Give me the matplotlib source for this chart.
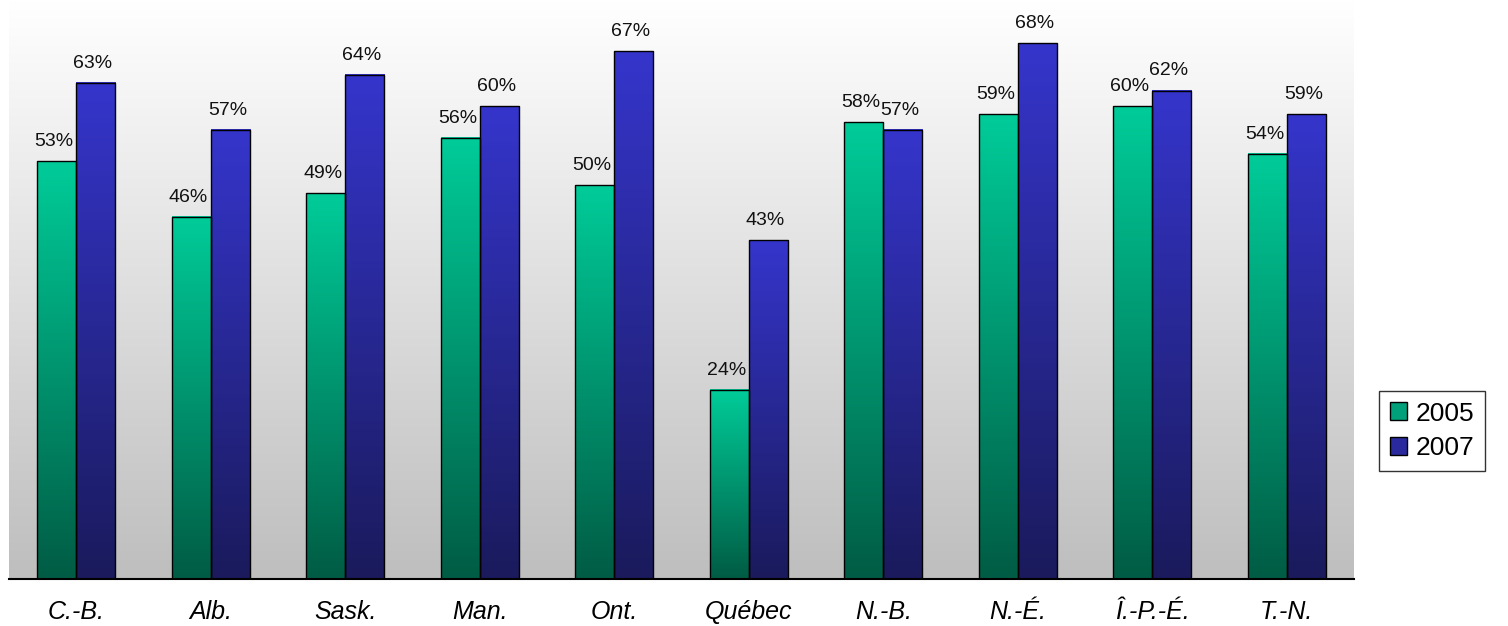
import numpy as np
import matplotlib
matplotlib.use("Agg")
import matplotlib.pyplot as plt
from matplotlib.colors import LinearSegmentedColormap
from matplotlib.patches import Patch

plt.rcParams['font.family'] = ['Liberation Sans', 'DejaVu Sans']

categories = ["C.-B.", "Alb.", "Sask.", "Man.", "Ont.", "Québec", "N.-B.", "N.-É.", "Î.-P.-É.", "T.-N."]
series_names = ["2005", "2007"]
values_2005 = [53, 46, 49, 56, 50, 24, 58, 59, 60, 54]
values_2007 = [63, 57, 64, 60, 67, 43, 57, 68, 62, 59]

W, H = 1508, 626
fig = plt.figure(figsize=(W / 100, H / 100), dpi=100)
fig.patch.set_facecolor("white")
ax = fig.add_axes([9 / W, (H - 579) / H, (1354 - 9) / W, 579 / H])

x = np.arange(len(categories))
bw = 0.29

cmap_green = LinearSegmentedColormap.from_list("g", ["#005C44", "#00CC99"])
cmap_blue = LinearSegmentedColormap.from_list("b", ["#1A1A5C", "#3535CC"])
cmap_bg = LinearSegmentedColormap.from_list("bg", ["#BEBEBE", "#FFFFFF"])

grad = np.linspace(0, 1, 256).reshape(-1, 1)

ax.imshow(grad, extent=[0, 1, 0, 1], transform=ax.transAxes, origin="lower",
          aspect="auto", cmap=cmap_bg, zorder=0)

bars1 = ax.bar(x - bw / 2, values_2005, bw, facecolor="none", edgecolor="black", lw=1.0, zorder=3)
bars2 = ax.bar(x + bw / 2, values_2007, bw, facecolor="none", edgecolor="black", lw=1.0, zorder=3)

for bars, cm in ((bars1, cmap_green), (bars2, cmap_blue)):
    for b in bars:
        x0, w, h = b.get_x(), b.get_width(), b.get_height()
        ax.imshow(grad, extent=[x0, x0 + w, 0, h], origin="lower", aspect="auto",
                  cmap=cm, zorder=2)

for bars, vals in ((bars1, values_2005), (bars2, values_2007)):
    for b, v in zip(bars, vals):
        ax.annotate(f"{v}%", (b.get_x() + b.get_width() / 2, v), xytext=(-2, 8),
                    textcoords="offset points", ha="center", va="bottom",
                    fontsize=14, color="#111111", zorder=4)

ax.set_xlim(-0.5, len(categories) - 0.5)
ax.set_ylim(0, 73.5)
ax.set_xticks(x)
ax.set_xticklabels(categories, fontsize=18, fontstyle="italic")
ax.tick_params(axis="x", length=0, pad=15)
ax.set_yticks([])
for s in ("top", "right", "left"):
    ax.spines[s].set_visible(False)
ax.spines["bottom"].set_linewidth(1.5)
ax.spines["bottom"].set_zorder(5)

handles = [Patch(facecolor="#00A07A", edgecolor="black", label=series_names[0]),
           Patch(facecolor="#2A2A9E", edgecolor="black", label=series_names[1])]
leg = fig.legend(handles=handles, loc="upper left", bbox_to_anchor=(1379 / W, 1 - 391 / H),
                 frameon=True, fancybox=False, fontsize=19, handlelength=0.65, handleheight=0.65,
                 handletextpad=0.35, borderpad=0.4, labelspacing=0.4, borderaxespad=0)
leg.get_frame().set_edgecolor("black")
leg.get_frame().set_linewidth(1.0)

fig.savefig("out.png", dpi=100)
